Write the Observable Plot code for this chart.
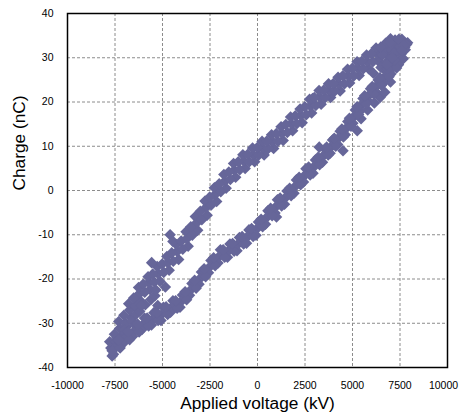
<!DOCTYPE html>
<html>
<head>
<meta charset="utf-8">
<script src="https://cdn.jsdelivr.net/npm/d3@7"></script>
<script src="https://cdn.jsdelivr.net/npm/@observablehq/plot@0.6"></script>
<style>
  body { margin: 0; background: #fff; }
</style>
</head>
<body>
<div id="chart"></div>
<script>
// Charge–voltage (Lissajous) loop: upper branch and lower branch samples.
const upperVoltage = [
  -7650, -7720, -7780, -7150, -7260, -7300, -6640, -6720, -6780,
  -6150, -6230, -6260, -5650, -5720, -5760, -5140, -5230, -5280,
  -4650, -4720, -4770, -4150, -4230, -4270, -3650, -3720, -3760,
  -3150, -3220, -3270, -2650, -2720, -2760, -2150, -2230, -2270,
  -1650, -1720, -1770, -1150, -1220, -1260, -650, -720, -770,
  -150, -220, -260, 350, 280, 240, 850, 780, 740,
  1350, 1280, 1240, 1850, 1780, 1740, 2350, 2280, 2240,
  2850, 2780, 2740, 3350, 3280, 3240, 3850, 3780, 3740,
  4350, 4280, 4240, 4850, 4780, 4740, 5350, 5280, 5240,
  5850, 5780, 5740, 6350, 6280, 6240, 6850, 6780, 6740,
  7350, 7280, 7240, 7750, 7680, 7600,
  -5570, -4600, -4450, 2900, 7000, 7900, -6400, -5900, -5600, -6900, -7400,
  -7450, -7530, -6950, -7030, -6435, -6515, -5935, -6015, -5435, -5515,
  -4935, -5015, -4435, -4515, -3935, -4015, -3430, -3510, -2930, -3010,
  -2435, -2515, -1935, -2015, -1430, -1510, -930, -1010, -430, -510,
  70, -10, 570, 490, 1070, 990, 1570, 1490, 2070, 1990,
  2570, 2490, 3070, 2990, 3570, 3490, 4070, 3990, 4570, 4490,
  5070, 4990, 5570, 5490, 6070, 5990, 6570, 6490, 7070, 6990,
  7520, 7440,
  -7000, -6600, -6200, -5400, -4850, -5350, -6100, -5250, 6600
];
const upperCharge = [
  -37.4, -35.6, -34.2, -33.0, -31.2, -29.6, -28.8, -27.0, -25.6,
  -25.0, -23.4, -21.9, -22.4, -20.8, -19.5, -20.5, -18.8, -17.2,
  -18.0, -16.3, -14.9, -15.6, -13.8, -12.2, -12.6, -10.9, -9.3,
  -9.0, -7.4, -5.9, -5.6, -3.9, -2.4, -2.5, -0.9, 0.6,
  0.5, 2.1, 3.6, 3.0, 4.6, 6.1, 5.0, 6.6, 8.1,
  6.5, 8.1, 9.6, 8.0, 9.6, 11.1, 9.5, 11.1, 12.6,
  11.3, 12.9, 14.4, 13.5, 15.1, 16.6, 15.3, 16.9, 18.4,
  17.5, 19.1, 20.6, 19.5, 21.1, 22.6, 21.0, 22.6, 24.1,
  22.5, 24.1, 25.6, 24.3, 25.9, 27.4, 26.0, 27.6, 29.1,
  27.5, 29.1, 30.6, 29.3, 30.9, 32.2, 30.6, 32.1, 33.3,
  31.8, 33.1, 34.0, 32.4, 33.6, 34.2,
  -16.3, -10.0, -11.5, 20.8, 34.3, 33.4, -28.0, -25.8, -24.6, -30.8, -33.3,
  -34.3, -32.5, -30.0, -28.2, -26.1, -24.3, -23.0, -21.2, -20.7, -18.9,
  -18.5, -16.6, -16.0, -14.1, -13.3, -11.4, -10.1, -8.2, -6.6, -4.7,
  -3.3, -1.5, -0.3, 1.5, 2.5, 4.2, 4.7, 6.5, 6.5, 8.2,
  8.0, 9.7, 9.5, 11.2, 11.1, 12.9, 13.1, 14.9, 15.1, 16.9,
  17.1, 18.9, 19.2, 21.0, 21.0, 22.7, 22.5, 24.2, 24.1, 25.9,
  25.9, 27.6, 27.5, 29.2, 29.1, 30.9, 30.6, 32.4, 31.7, 33.5,
  32.5, 34.2,
  -31.5, -29.5, -27.3, -23.8, -21.8, -22.5, -26.0, -26.0, 28.3
];
const lowerVoltage = [
  7850, 7780, 7700, 7550, 7480, 7420, 7150, 7080, 7020,
  6750, 6680, 6620, 6350, 6280, 6220, 5950, 5880, 5820,
  5550, 5480, 5420, 5150, 5080, 5020, 4750, 4680, 4620,
  4350, 4280, 4220, 3950, 3880, 3820, 3550, 3480, 3420,
  3050, 2980, 2920, 2550, 2480, 2420, 2050, 1980, 1920,
  1550, 1480, 1420, 1050, 980, 920, 550, 480, 420,
  50, -20, -80, -450, -520, -580, -950, -1020, -1080,
  -1450, -1520, -1580, -1950, -2020, -2080, -2450, -2520, -2580,
  -2950, -3020, -3080, -3450, -3520, -3580, -3950, -4020, -4080,
  -4450, -4520, -4580, -4950, -5020, -5080, -5450, -5520, -5580,
  -5950, -6020, -6080, -6450, -6520, -6580, -6950, -7020, -7080,
  -7450, -7520, -7580,
  4500, 3250, 1000, 6100, 6500, 6900, 7200, -7650,
  5250, 5450, 5800, 6150, 6450, 6700, 7000, 7400,
  7670, 7590, 7320, 7240, 6920, 6840, 6520, 6440, 6120, 6040,
  5720, 5640, 5320, 5240, 4920, 4840, 4520, 4440, 4120, 4040,
  3720, 3640, 3270, 3190, 2770, 2690, 2270, 2190, 1770, 1690,
  1270, 1190, 770, 690, 270, 190, -230, -310, -730, -810,
  -1230, -1310, -1730, -1810, -2230, -2310, -2730, -2810, -3230, -3310,
  -3730, -3810, -4230, -4310, -4730, -4810, -5230, -5310, -5730, -5810,
  -6230, -6310, -6730, -6810, -7230, -7310,
  6800, 7100
];
const lowerCharge = [
  33.0, 31.8, 32.8, 30.8, 29.6, 28.4, 28.8, 27.6, 26.3,
  27.0, 25.6, 24.3, 25.0, 23.7, 22.3, 23.0, 21.6, 20.2,
  20.8, 19.4, 18.0, 18.2, 16.7, 15.2, 15.6, 14.1, 12.6,
  13.4, 11.9, 10.4, 11.4, 9.9, 8.4, 9.4, 7.9, 6.4,
  6.9, 5.4, 3.9, 4.9, 3.4, 1.9, 2.4, 0.9, -0.6,
  -0.1, -1.6, -3.1, -2.1, -3.6, -5.1, -4.6, -6.1, -7.6,
  -7.1, -8.6, -10.1, -8.9, -10.4, -11.9, -10.6, -12.1, -13.6,
  -12.1, -13.6, -15.1, -13.4, -14.9, -16.4, -15.8, -17.3, -18.6,
  -18.4, -19.9, -21.2, -21.0, -22.5, -23.7, -23.6, -25.1, -26.4,
  -24.9, -26.4, -27.5, -26.4, -27.9, -29.4, -27.6, -29.1, -30.4,
  -28.8, -30.3, -31.4, -30.4, -31.9, -33.0, -32.2, -33.7, -34.6,
  -34.2, -35.7, -37.0,
  9.0, 9.8, -6.0, 26.5, 27.8, 29.5, 31.0, -36.2,
  13.5, 16.2, 18.2, 19.8, 21.0, 22.2, 24.5, 28.5,
  29.8, 31.6, 27.7, 29.5, 25.7, 27.5, 23.8, 25.5, 21.8, 23.5,
  19.6, 21.4, 17.2, 18.9, 14.5, 16.3, 12.1, 13.9, 10.0, 11.8,
  8.0, 9.8, 5.8, 7.5, 3.5, 5.3, 1.3, 3.0, -1.2, 0.5,
  -3.5, -1.7, -5.7, -4.0, -8.2, -6.5, -10.4, -8.6, -12.1, -10.4,
  -13.7, -12.0, -15.1, -13.4, -17.0, -15.2, -19.5, -17.7, -22.1, -20.3,
  -24.7, -22.9, -26.6, -24.9, -28.0, -26.3, -29.4, -27.6, -30.6, -28.8,
  -32.0, -30.2, -33.7, -31.9, -35.6, -33.8,
  28.5, 30.0
];

const voltageTicks = [-10000, -7500, -5000, -2500, 0, 2500, 5000, 7500, 10000];
const chargeTicks = [-40, -30, -20, -10, 0, 10, 20, 30, 40];
const xTitle = "Applied voltage (kV)";
const yTitle = "Charge (nC)";

const points = upperVoltage.map((v, i) => ({voltage: v, charge: upperCharge[i]}))
  .concat(lowerVoltage.map((v, i) => ({voltage: v, charge: lowerCharge[i]})));

const gridStyle = {stroke: "#8c8c8c", strokeOpacity: 1, strokeWidth: 1, strokeDasharray: "3,2"};
const tickStyle = {tickSize: 0, tickPadding: 14, tickFormat: d => String(d), label: null, fontSize: 10.5};

const chart = Plot.plot({
  width: 461,
  height: 418,
  marginLeft: 67,
  marginRight: 14,
  marginTop: 13,
  marginBottom: 51,
  style: {
    fontFamily: "'Liberation Sans', Arial, sans-serif",
    fontSize: "10.5px",
    color: "#000",
    background: "#fff"
  },
  x: {domain: [-10000, 10000]},
  y: {domain: [-40, 40]},
  marks: [
    Plot.gridX(voltageTicks, gridStyle),
    Plot.gridY(chargeTicks, gridStyle),
    Plot.dot(points, {x: "voltage", y: "charge", symbol: "diamond2", r: 5.2, fill: "#666699", stroke: "none"}),
    Plot.frame({stroke: "#000", strokeWidth: 1.5}),
    // the last voltage label is nudged inward so it stays inside the figure
    Plot.axisX(voltageTicks.slice(0, -1), tickStyle),
    Plot.axisX(voltageTicks.slice(-1), {...tickStyle, dx: -4}),
    Plot.axisY(chargeTicks, tickStyle),
    Plot.text([xTitle], {text: d => d, frameAnchor: "bottom", dy: 41, fontSize: 17.3}),
    Plot.text([yTitle], {text: d => d, frameAnchor: "left", dx: -48, rotate: -90, fontSize: 17.3})
  ]
});

document.getElementById("chart").append(chart);
</script>
</body>
</html>
